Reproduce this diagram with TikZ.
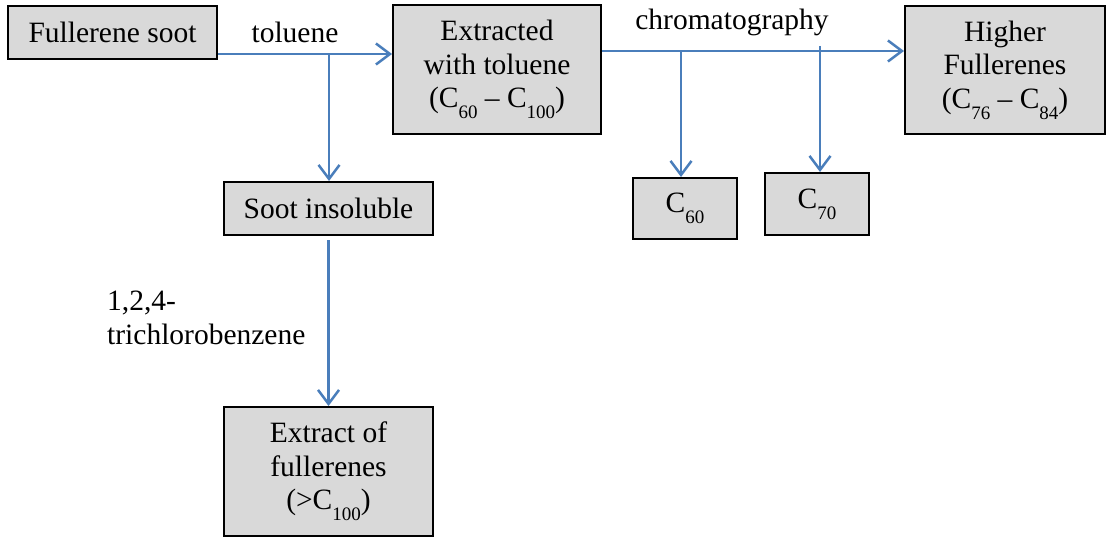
\documentclass[tikz,border=0pt]{standalone}
\usepackage{fontspec}
\setmainfont{Liberation Serif}
\usetikzlibrary{arrows.meta}
\definecolor{arrblue}{RGB}{74,126,187}
\definecolor{boxgray}{RGB}{217,217,217}
\newcommand{\subnum}[1]{\raisebox{-0.38em}{\fontsize{19}{19}\selectfont #1}}
\begin{document}
\begin{tikzpicture}[x=1pt,y=-1pt,
  box/.style={draw=black,line width=2pt,fill=boxgray,inner sep=0pt,align=center,
    font=\fontsize{29.5}{33.5}\selectfont},
  lbl/.style={inner sep=0pt,font=\fontsize{29.5}{33.5}\selectfont},
  arr/.style={draw=arrblue,line width=2.5pt,-{Straight Barb[length=14pt,width=21pt,line width=2.5pt]}}]
\useasboundingbox (0,0) rectangle (1107,537);
\node[box,minimum width=209pt,minimum height=53pt] (soot) at (112.5,32.5) {Fullerene soot};
\node[box,minimum width=208pt,minimum height=129pt] (ext) at (497,69.5) {Extracted\\with toluene\\(C\subnum{60} -- C\subnum{100})};
\node[box,minimum width=200pt,minimum height=128pt] (hf) at (1005,70) {Higher\\Fullerenes\\(C\subnum{76} -- C\subnum{84})};
\node[box,minimum width=104pt,minimum height=61pt] (c60) at (685,208.5) {C\subnum{60}};
\node[box,minimum width=104pt,minimum height=62pt] (c70) at (817,204) {C\subnum{70}};
\node[box,minimum width=209pt,minimum height=53pt] (ins) at (328.5,208.5) {Soot insoluble};
\node[box,minimum width=209pt,minimum height=129pt] (xf) at (328.5,471.5) {Extract of\\fullerenes\\(>C\subnum{100})};
\node[lbl] (tol) at (295,32) {toluene};
\node[lbl] (chr) at (732,22) {chromatography};
\node[lbl,anchor=west,align=left] (tcb) at (107,318) {1,2,4-\\trichlorobenzene};
\coordinate (j1) at (329,54);
\coordinate (j2) at (681,51);
\coordinate (j3) at (820,46);
\draw[arr] (soot.east |- j1) -- (ext.west |- j1);
\draw[arr] (j1) -- (ins.north -| j1);
\draw[arr] (ext.east |- j2) -- (hf.west |- j2);
\draw[arr] (j2) -- (c60.north -| j2);
\draw[arr] (j3) -- (c70.north -| j3);
\draw[arr,shorten <=4pt] (ins.south) -- (xf.north);
\end{tikzpicture}
\end{document}
